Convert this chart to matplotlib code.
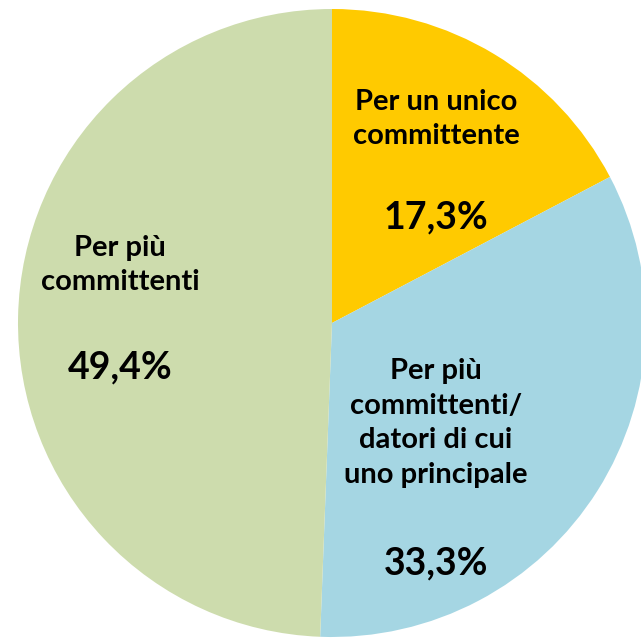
import matplotlib.pyplot as plt

# dati
etichette = ["Per un unico\ncommittente", "Per più\ncommittenti/\ndatori di cui\nuno principale", "Per più\ncommittenti"]
valori = [17.3, 33.3, 49.4]
percentuali = ["17,3%", "33,3%", "49,4%"]
colori = ["#FFCA00", "#A5D6E3", "#CDDCAD"]

W, H = 641, 640
cx, cy, r = 332, 323, 314

fig = plt.figure(figsize=(W / 100, H / 100), dpi=100)
ax = fig.add_axes([0, 0, 1, 1])

ax.pie(valori, colors=colori, startangle=90, counterclock=False,
       radius=1, wedgeprops=dict(linewidth=0))

ax.set_xlim(-cx / r, (W - cx) / r)
ax.set_ylim(-(H - cy) / r, cy / r)
ax.set_aspect("equal")
ax.axis("off")

def px(x, y):  # pixel -> coordinate dati
    return (x - cx) / r, (cy - y) / r

# posizioni delle etichette (pixel)
pos_label = [(436, 119), (436, 423), (120, 265)]
pos_pct = [(436, 217), (436, 563), (120, 367)]

font = ["Lato", "DejaVu Sans"]
for lab, pct, pl, pp in zip(etichette, percentuali, pos_label, pos_pct):
    ax.text(*px(*pl), lab, ha="center", va="center", fontsize=21,
            fontweight="bold", family=font, linespacing=1.4)
    ax.text(*px(*pp), pct, ha="center", va="center", fontsize=27,
            fontweight="bold", family=font)

fig.savefig("out.png", dpi=100)
